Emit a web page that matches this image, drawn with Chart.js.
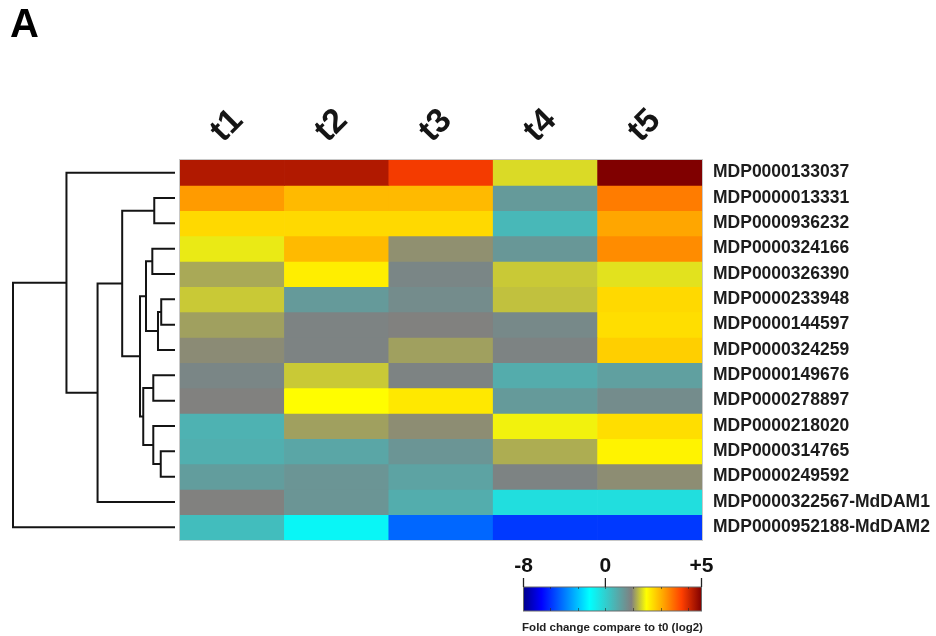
<!DOCTYPE html>
<html>
<head>
<meta charset="utf-8">
<script src="https://cdn.jsdelivr.net/npm/chart.js@4/dist/chart.umd.min.js"></script>
<style>
html,body{margin:0;padding:0;background:#fff;}
#wrap{width:936px;height:636px;position:relative;}
</style>
</head>
<body>
<div id="wrap"><canvas id="c" width="936" height="636"></canvas></div>
<script>
// ---- data ----
const timepoints = ['t1', 't2', 't3', 't4', 't5'];
const genes = [
  'MDP0000133037', 'MDP0000013331', 'MDP0000936232', 'MDP0000324166',
  'MDP0000326390', 'MDP0000233948', 'MDP0000144597', 'MDP0000324259',
  'MDP0000149676', 'MDP0000278897', 'MDP0000218020', 'MDP0000314765',
  'MDP0000249592', 'MDP0000322567-MdDAM1', 'MDP0000952188-MdDAM2'
];
// log2 fold change vs t0, one array per time point (gene order as above)
const t1Values = [4.6, 3.1, 2.5, 2.0, 1.6, 1.8, 1.55, 1.42, 1.25, 1.36, 0.5, 0.55, 0.85, 1.36, 0.3];
const t2Values = [4.6, 2.8, 2.5, 2.8, 2.3, 0.9, 1.3, 1.3, 1.8, 2.15, 1.55, 0.7, 1.0, 1.0, -1.25];
const t3Values = [4.05, 2.8, 2.5, 1.45, 1.25, 1.15, 1.36, 1.55, 1.3, 2.35, 1.43, 1.0, 0.75, 0.58, -4.35];
const t4Values = [1.9, 0.9, 0.4, 0.95, 1.8, 1.75, 1.2, 1.3, 0.6, 0.9, 2.05, 1.63, 1.3, -0.5, -5.2];
const t5Values = [5.0, 3.4, 3.0, 3.25, 1.95, 2.5, 2.45, 2.6, 0.8, 1.15, 2.45, 2.25, 1.43, -0.5, -5.2];

const colorbarTickValues = [-8, 0, 5];
const colorbarTickLabels = ['-8', '0', '+5'];
const colorbarTitle = 'Fold change compare to t0 (log2)';
const panelLabel = 'A';

// hierarchical clustering merges: [childA, childB, height(0..1)]
// children 0..14 are genes, 15+k is the k-th merge below
const dendroMerges = [
  [5, 6, 0.085],
  [15, 7, 0.105],
  [3, 4, 0.14],
  [11, 12, 0.088],
  [10, 18, 0.134],
  [8, 9, 0.134],
  [1, 2, 0.128],
  [17, 16, 0.179],
  [20, 19, 0.196],
  [22, 23, 0.216],
  [21, 24, 0.326],
  [25, 13, 0.478],
  [0, 26, 0.67],
  [27, 14, 1.0]
];

// ---- colour scale ----
const cmapMin = -8, cmapMax = 5, cmapZeroPos = 0.46;
const cmapPositions = [0, 0.10, 0.371, 0.606, 0.69, 0.785, 0.888, 1];
const cmapColors = ['#00008c', '#0000ff', '#00ffff', '#808080', '#ffff00', '#ffa500', '#ff4000', '#800000'];

function valueToFrac(v) {
  v = Math.max(cmapMin, Math.min(cmapMax, v));
  return v <= 0 ? cmapZeroPos * (v - cmapMin) / (0 - cmapMin)
                : cmapZeroPos + (1 - cmapZeroPos) * v / cmapMax;
}
function hexRgb(h) { return [1, 3, 5].map(i => parseInt(h.substr(i, 2), 16)); }
function fracToColor(f) {
  for (let i = 0; i < cmapPositions.length - 1; i++) {
    const a = cmapPositions[i], b = cmapPositions[i + 1];
    if (f <= b || i === cmapPositions.length - 2) {
      const t = Math.max(0, Math.min(1, (f - a) / (b - a)));
      const ca = hexRgb(cmapColors[i]), cb = hexRgb(cmapColors[i + 1]);
      const c = ca.map((x, k) => Math.round(x + (cb[k] - x) * t));
      return `rgb(${c[0]},${c[1]},${c[2]})`;
    }
  }
}
const valuesByTime = [t1Values, t2Values, t3Values, t4Values, t5Values];

const FONT = "'Liberation Sans', Arial, Helvetica, sans-serif";

// ---- datasets: one stacked segment per gene ----
const datasets = genes.map((g, r) => ({
  label: g,
  data: timepoints.map(() => 1),
  backgroundColor: timepoints.map((t, c) => fracToColor(valueToFrac(valuesByTime[c][r]))),
  borderWidth: 0,
  barPercentage: 1,
  categoryPercentage: 1,
  stack: 'heat'
}));

const extras = {
  id: 'extras',
  afterDraw(chart) {
    const ctx = chart.ctx, area = chart.chartArea, ys = chart.scales.y;
    ctx.save();
    // frame
    ctx.strokeStyle = '#c8c8c8';
    ctx.lineWidth = 1;
    ctx.strokeRect(area.left - 0.5, area.top - 0.5, area.right - area.left + 1, area.bottom - area.top + 1);

    // dendrogram
    const leafX = area.left - 5, rootX = 13;
    const hx = h => leafX - h * (leafX - rootX);
    const nodes = genes.map((g, i) => ({ x: leafX, y: ys.getPixelForValue(i + 0.5) }));
    ctx.strokeStyle = '#141414';
    ctx.lineWidth = 2;
    ctx.lineJoin = 'miter';
    ctx.lineCap = 'butt';
    dendroMerges.forEach(([a, b, h]) => {
      const A = nodes[a], B = nodes[b], x = hx(h);
      ctx.beginPath();
      ctx.moveTo(A.x, A.y);
      ctx.lineTo(x, A.y);
      ctx.lineTo(x, B.y);
      ctx.lineTo(B.x, B.y);
      ctx.stroke();
      nodes.push({ x, y: (A.y + B.y) / 2 });
    });

    // colour bar
    const bx0 = 523.5, bx1 = 701.5, by0 = 587, by1 = 611;
    const grad = ctx.createLinearGradient(bx0, 0, bx1, 0);
    cmapPositions.forEach((p, i) => grad.addColorStop(p, cmapColors[i]));
    ctx.fillStyle = grad;
    ctx.fillRect(bx0, by0, bx1 - bx0, by1 - by0);
    ctx.strokeStyle = '#6a6a6a';
    ctx.lineWidth = 1;
    ctx.strokeRect(bx0, by0, bx1 - bx0, by1 - by0);
    // minor ticks
    ctx.strokeStyle = 'rgba(40,40,40,0.6)';
    for (let k = -2; k <= 3; k++) {
      const f = cmapZeroPos + k * 0.155;
      const x = Math.round(bx0 + f * (bx1 - bx0)) + 0.5;
      ctx.beginPath();
      ctx.moveTo(x, by1); ctx.lineTo(x, by1 - 3);
      ctx.moveTo(x, by0); ctx.lineTo(x, by0 + 2);
      ctx.stroke();
    }
    // major ticks + labels
    ctx.strokeStyle = '#222';
    ctx.lineWidth = 1.3;
    ctx.fillStyle = '#111';
    ctx.font = `bold 21px ${FONT}`;
    ctx.textAlign = 'center';
    ctx.textBaseline = 'middle';
    colorbarTickValues.forEach((v, i) => {
      const x = bx0 + valueToFrac(v) * (bx1 - bx0);
      ctx.beginPath();
      ctx.moveTo(x, by0 - 9); ctx.lineTo(x, by0);
      ctx.stroke();
      ctx.fillText(colorbarTickLabels[i], x, 566);
    });
    ctx.font = `bold 11.5px ${FONT}`;
    ctx.fillStyle = '#222';
    ctx.fillText(colorbarTitle, (bx0 + bx1) / 2, 628);
    ctx.restore();
  }
};

new Chart(document.getElementById('c'), {
  type: 'bar',
  data: { labels: timepoints, datasets },
  options: {
    responsive: false,
    animation: false,
    events: [],
    layout: { padding: { left: 10, right: 0, top: 0, bottom: 96 } },
    plugins: {
      legend: { display: false },
      tooltip: { enabled: false },
      title: {
        display: true, text: panelLabel, align: 'start', color: '#000',
        font: { size: 40, weight: 'bold', family: FONT, lineHeight: 1 },
        padding: { top: 6, bottom: 0 }
      }
    },
    scales: {
      x: {
        position: 'top',
        stacked: true,
        grid: { display: false, drawTicks: false },
        border: { display: false },
        ticks: {
          autoSkip: false, minRotation: 45, maxRotation: 45,
          labelOffset: 13, padding: 9, color: '#151515',
          font: { size: 34, weight: 'bold', family: FONT }
        },
        afterFit: s => { s.height = 114; }
      },
      y: {
        stacked: true, reverse: true, min: 0, max: genes.length,
        display: true,
        ticks: { display: false },
        grid: { display: false, drawTicks: false },
        border: { display: false },
        afterFit: s => { s.width = 170; }
      },
      y2: {
        type: 'category',
        axis: 'y',
        labels: genes,
        position: 'right',
        offset: true,
        grid: { display: false, drawTicks: false },
        border: { display: false },
        ticks: { padding: 11, color: '#1c1c1c', font: { size: 17.5, weight: 'bold', family: FONT } },
        afterFit: s => { s.width = 234; }
      }
    }
  },
  plugins: [extras]
});
</script>
</body>
</html>
